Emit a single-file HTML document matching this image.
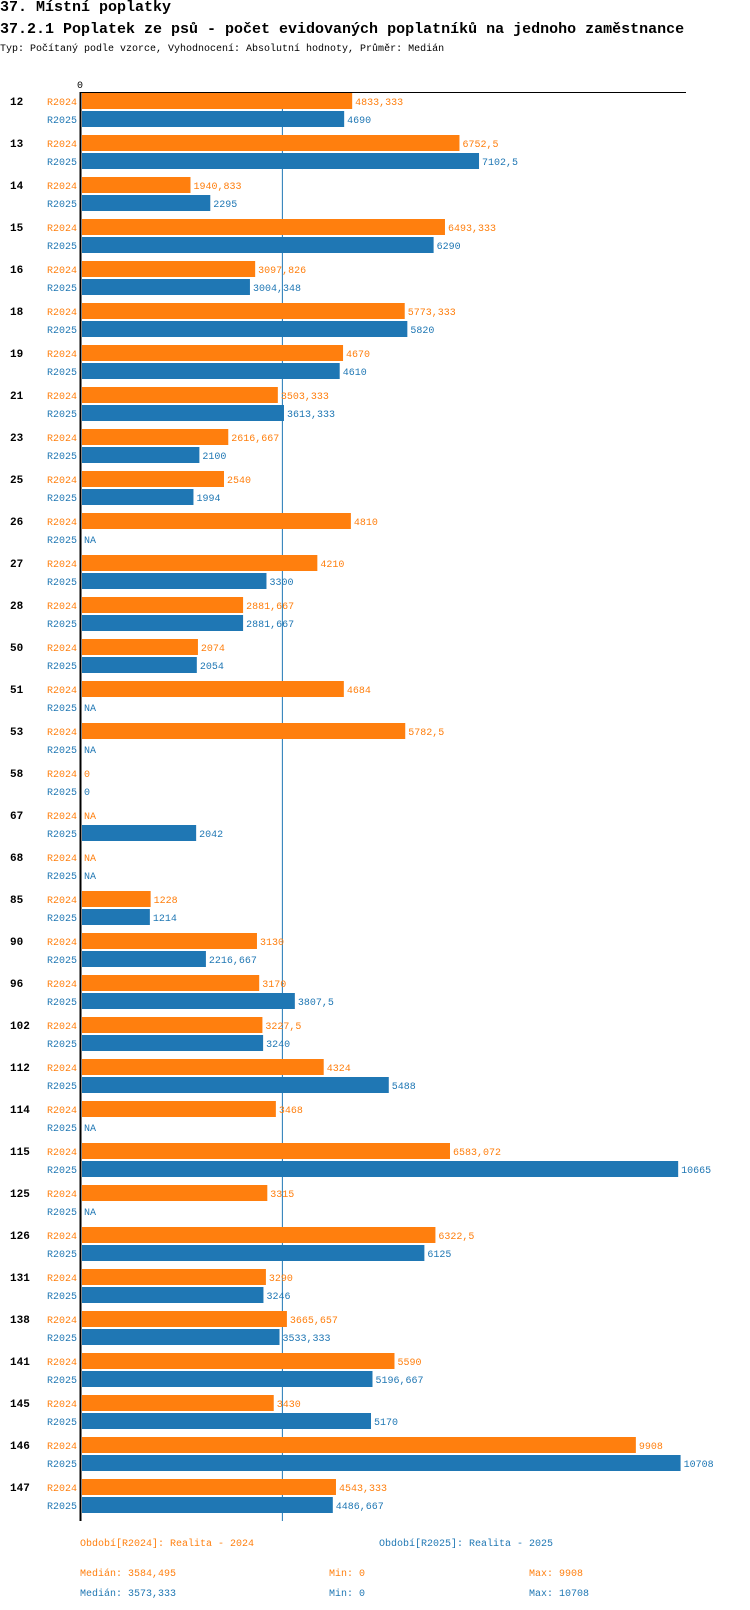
<!DOCTYPE html>
<html><head><meta charset="utf-8">
<style>
body{margin:0;background:#fff;width:750px;height:1610px;overflow:hidden;position:relative;font-family:"Liberation Mono",monospace;}
.t{position:absolute;white-space:nowrap;}
</style></head>
<body>
<div class="t" style="left:0;top:-1px;font-size:15px;font-weight:bold;">37. Místní poplatky</div>
<div class="t" style="left:0;top:21px;font-size:15px;font-weight:bold;">37.2.1 Poplatek ze psů - počet evidovaných poplatníků na jednoho zaměstnance</div>
<div class="t" style="left:0;top:44px;font-size:10px;">Typ: Počítaný podle vzorce, Vyhodnocení: Absolutní hodnoty, Průměr: Medián</div>
<svg id="chart" width="750" height="1610" style="position:absolute;left:0;top:0" font-family="Liberation Mono, monospace"></svg>
<script>
const categories=["12","13","14","15","16","18","19","21","23","25","26","27","28","50","51","53","58","67","68","85","90","96","102","112","114","115","125","126","131","138","141","145","146","147"];
const r2024=[4833.333,6752.5,1940.833,6493.333,3097.826,5773.333,4670,3503.333,2616.667,2540,4810,4210,2881.667,2074,4684,5782.5,0,null,null,1228,3130,3170,3227.5,4324,3468,6583.072,3315,6322.5,3290,3665.657,5590,3430,9908,4543.333];
const r2025=[4690,7102.5,2295,6290,3004.348,5820,4610,3613.333,2100,1994,null,3300,2881.667,2054,null,null,0,2042,null,1214,2216.667,3807.5,3240,5488,null,10665,null,6125,3246,3533.333,5196.667,5170,10708,4486.667];
const medians=[3584.495,3573.333];
const mins=[0,0];
const maxs=[9908,10708];
const seriesNames=["R2024","R2025"];
const legendNames=["Období[R2024]: Realita - 2024","Období[R2025]: Realita - 2025"];
const colors=["#ff7f0e","#1f77b4"];
const svg=document.getElementById('chart');
const NS="http://www.w3.org/2000/svg";
const x0=82,k=0.0559;
const xs=v=>x0+v*k;
const gy=i=>93+i*42;
function el(t,a){const e=document.createElementNS(NS,t);for(const n in a)e.setAttribute(n,a[n]);svg.appendChild(e);return e;}
function fmt(v){return String(v).replace('.',',');}
const ml=el('line',{x1:xs(medians[0]),x2:xs(medians[0]),y1:92,y2:1521,stroke:'#1f77b4','stroke-width':1});


const series=[r2024,r2025];
categories.forEach((c,i)=>{
  const y=gy(i);
  const gl=el('text',{x:10,y:y+12,'font-size':11,'font-weight':'bold',fill:'#000'});gl.textContent=c;
  
  
  series.forEach((s,j)=>{
    const yy=y+j*18;
    const lb=el('text',{x:77,y:yy+12,'font-size':10,'text-anchor':'end',fill:colors[j]});lb.textContent=seriesNames[j];
    
    
    const v=s[i];
    let tx=x0+2;
    if(v!==null&&v>0){
      const r=el('rect',{x:x0,y:yy,width:xs(v)-x0,height:16,fill:colors[j]});
      
      
      tx=xs(v)+3;
    }
    const vt=el('text',{x:tx,y:yy+12,'font-size':10,fill:colors[j]});vt.textContent=v===null?'NA':fmt(v);
    
    
  });
});
const ax=el('line',{x1:80.5,x2:80.5,y1:92,y2:1521,stroke:'#000','stroke-width':2});


const tl=el('line',{x1:80,x2:686,y1:92.5,y2:92.5,stroke:'#000','stroke-width':1});


const z=el('text',{x:77,y:88,'font-size':10,fill:'#000'});z.textContent='0';


[80,379].forEach((lx,j)=>{
  const t=el('text',{x:lx,y:1546,'font-size':10,fill:colors[j]});t.textContent=legendNames[j];
  
  
  const yy=1576+j*20;
  const a=el('text',{x:80,y:yy,'font-size':10,fill:colors[j]});a.textContent='Medián: '+fmt(medians[j]);
  
  
  const b=el('text',{x:329,y:yy,'font-size':10,fill:colors[j]});b.textContent='Min: '+fmt(mins[j]);
  
  
  const d=el('text',{x:529,y:yy,'font-size':10,fill:colors[j]});d.textContent='Max: '+fmt(maxs[j]);
  
  
});
</script>
</body></html>
